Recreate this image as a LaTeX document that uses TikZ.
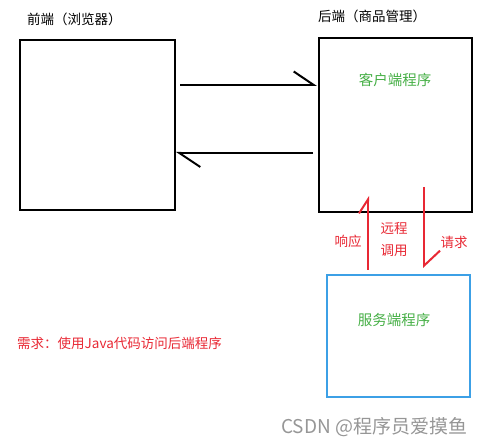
\documentclass[tikz,border=0pt]{standalone}
\usepackage{fontspec}
\setmainfont{Noto Sans CJK SC}
\usepackage{xcolor}
\usetikzlibrary{arrows.meta}
\definecolor{prgreen}{RGB}{70,175,70}
\definecolor{prred}{RGB}{232,40,52}
\definecolor{prblue}{RGB}{60,160,230}
\definecolor{wmgray}{RGB}{150,150,150}

\tikzset{
  box/.style={draw,line width=2pt,minimum width=#1,inner sep=0pt},
  harp/.style={line width=2pt,-{Straight Barb[left,#1]}},
  lbl/.style={font=\fontsize{13.5}{15}\selectfont,inner sep=0pt}
}

\begin{document}
\begin{tikzpicture}[x=1pt,y=-1pt]
\useasboundingbox (0,0) rectangle (488,446);

% boxes
\node[box=155pt,minimum height=170pt] (front) at (97.5,125) {};
\node[box=153pt,minimum height=174pt] (back) at (395.5,125) {};
\node[box=143pt,minimum height=122pt,draw=prblue] (server) at (398.5,336) {};

% titles
\foreach \n/\x/\y/\t in {ftitle/27/19/前端（浏览器）, btitle/318/16/后端（商品管理）}
\node[lbl,anchor=west] (\n) at (\x,\y) {\t};

\node[lbl,text=prgreen,font=\fontsize{14.5}{16}\selectfont] (client) at (395,80) {客户端程序};
\node[lbl,text=prgreen,font=\fontsize{14.5}{16}\selectfont] (service) at (394,320) {服务端程序};

% front <-> back
\draw[harp={length=20pt,width=27pt}] ([xshift=4pt,yshift=40pt]front.east) -- ([xshift=-1pt,yshift=40pt]back.west);
\draw[harp={length=21pt,width=28pt}] ([xshift=-5pt,yshift=-28pt]back.west) -- ([yshift=-28pt]front.east);

% back <-> server
\draw[harp={length=14pt,width=18pt},prred] ([xshift=-30.5pt,yshift=4pt]server.north) -- ([xshift=-27.5pt,yshift=17pt]back.south);
\draw[harp={length=15pt,width=32pt},prred] ([xshift=28.5pt,yshift=26pt]back.south) -- ([xshift=25.5pt,yshift=6pt]server.north);

\node[lbl,text=prred] (resp) at (348,241) {响应};
\node[lbl,text=prred,align=center] (rpc) at (394,240) {远程\\[7pt]调用};
\node[lbl,text=prred] (req) at (454,242) {请求};

\node[lbl,text=prred,anchor=west] (need) at (17,343) {需求：使用Java代码访问后端程序};

% watermark
\node[lbl,text=wmgray,anchor=west,font=\fontsize{19}{21}\selectfont] (mark) at (281,427) {CSDN @程序员爱摸鱼};

\end{tikzpicture}
\end{document}
